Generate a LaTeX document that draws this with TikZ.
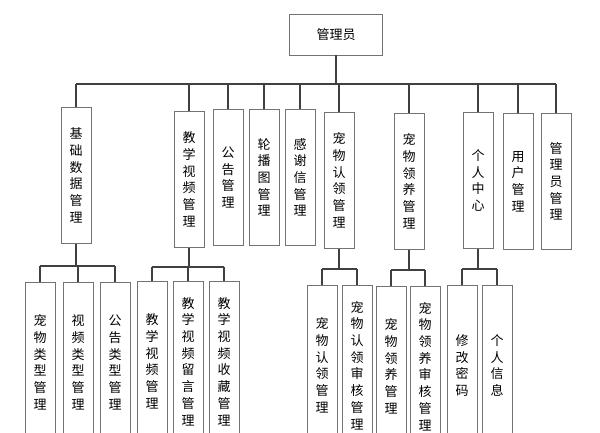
\documentclass[tikz,border=0pt]{standalone}
\usepackage{fontspec}
\setmainfont{Noto Sans CJK SC}
\usetikzlibrary{positioning,calc}
\tikzset{
  box/.style={draw=black!55, line width=0.8pt, fill=white, minimum width=30pt, minimum height=136pt,
    anchor=north, align=center, inner sep=0pt, font=\fontsize{13}{16.7}\selectfont},
  subbox/.style={box, minimum height=160pt},
  link/.style={draw=black!75, line width=1.1pt}
}
\begin{document}
\begin{tikzpicture}[x=1pt,y=-1pt]
    \useasboundingbox (0,0) rectangle (600,432);
    \clip (0,0) rectangle (600,432);
    % Root
    \node[draw=black!55, line width=0.8pt, minimum width=93pt, minimum height=41pt, font=\fontsize{13}{16}\selectfont] (root) at (336,34.5) {管理员};
    \coordinate (bus) at (0,84);

    % First level
    \node[box] (jc) at (76,107) {基\\础\\数\\据\\管\\理};
    \node[box] (jx) at (189,111) {教\\学\\视\\频\\管\\理};
    \node[box] (gg) at (228,109) {公\\告\\管\\理};
    \node[box] (lb) at (264,109) {轮\\播\\图\\管\\理};
    \node[box] (gx) at (300,109) {感\\谢\\信\\管\\理};
    \node[box] (rl) at (339,112) {宠\\物\\认\\领\\管\\理};
    \node[box] (ly) at (409,113) {宠\\物\\领\\养\\管\\理};
    \node[box] (gr) at (478,112) {个\\人\\中\\心};
    \node[box] (yh) at (518,113) {用\\户\\管\\理};
    \node[box] (gl) at (556,113) {管\\理\\员\\管\\理};

    % Second level
    \node[subbox] (cwlx) at (40,282) {宠\\物\\类\\型\\管\\理};
    \node[subbox] (splx) at (78,282) {视\\频\\类\\型\\管\\理};
    \node[subbox] (gglx) at (115,282) {公\\告\\类\\型\\管\\理};
    \node[subbox] (jxsp) at (152,281) {教\\学\\视\\频\\管\\理};
    \node[subbox] (sply) at (188,281) {教\\学\\视\\频\\留\\言\\管\\理};
    \node[subbox] (spsc) at (224,281) {教\\学\\视\\频\\收\\藏\\管\\理};
    \node[subbox] (rlgl) at (322,285) {宠\\物\\认\\领\\管\\理};
    \node[subbox] (rlsh) at (357,285) {宠\\物\\认\\领\\审\\核\\管\\理};
    \node[subbox] (lygl) at (391,286) {宠\\物\\领\\养\\管\\理};
    \node[subbox] (lysh) at (425,286) {宠\\物\\领\\养\\审\\核\\管\\理};
    \node[subbox] (xgmm) at (462,285) {修\\改\\密\\码};
    \node[subbox] (grxx) at (497,285) {个\\人\\信\\息};

    % Connections
    \draw[link] (root.south) -- (root.south |- bus);
    \draw[link] (jc.north |- bus) -- (gl.north |- bus);
    \foreach \n in {jc,jx,gg,lb,gx,rl,ly,gr,yh,gl}
        \draw[link] (\n.north) -- (\n.north |- bus);

    \coordinate (b1) at (0,266);
    \draw[link] (jc.south) -- (jc.south |- b1);
    \draw[link] (cwlx.north |- b1) -- (gglx.north |- b1);
    \foreach \n in {cwlx,splx,gglx}
        \draw[link] (\n.north) -- (\n.north |- b1);

    \coordinate (b2) at (0,267);
    \draw[link] (jx.south) -- (jx.south |- b2);
    \draw[link] (jxsp.north |- b2) -- (spsc.north |- b2);
    \foreach \n in {jxsp,sply,spsc}
        \draw[link] (\n.north) -- (\n.north |- b2);

    \coordinate (b3) at (0,269);
    \draw[link] (rl.south) -- (rl.south |- b3);
    \draw[link] (rlgl.north |- b3) -- (rlsh.north |- b3);
    \foreach \n in {rlgl,rlsh}
        \draw[link] (\n.north) -- (\n.north |- b3);

    \coordinate (b4) at (0,270);
    \draw[link] (ly.south) -- (ly.south |- b4);
    \draw[link] (lygl.north |- b4) -- (lysh.north |- b4);
    \foreach \n in {lygl,lysh}
        \draw[link] (\n.north) -- (\n.north |- b4);

    \coordinate (b5) at (0,269);
    \draw[link] (gr.south) -- (gr.south |- b5);
    \draw[link] (xgmm.north |- b5) -- (grxx.north |- b5);
    \foreach \n in {xgmm,grxx}
        \draw[link] (\n.north) -- (\n.north |- b5);
\end{tikzpicture}
\end{document}
